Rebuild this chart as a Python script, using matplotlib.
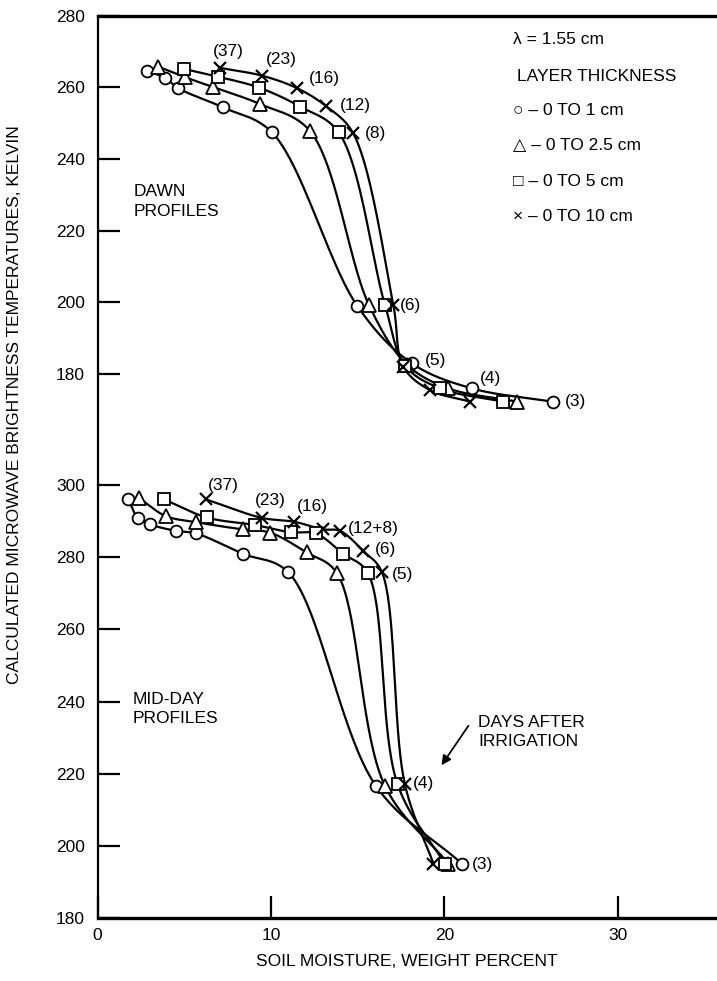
import numpy as np
import matplotlib
matplotlib.use("Agg")
import matplotlib.pyplot as plt

plt.rcParams['font.family'] = ['Liberation Sans', 'DejaVu Sans']

# days after irrigation for each point along a curve (dry -> wet)
days = [37, 23, 16, 12, 8, 6, 5, 4, 3]

# dawn profiles: soil moisture (weight %) and brightness temperature (K)
dawn_x_1 = [2.84, 3.89, 4.66, 7.22, 10.06, 14.98, 18.12, 21.58, 26.25]
dawn_t_1 = [264.6, 262.6, 259.7, 254.4, 247.4, 199.0, 183.0, 176.0, 172.3]
dawn_x_25 = [3.51, 5.05, 6.68, 9.37, 12.25, 15.66, 17.85, 20.23, 24.18]
dawn_t_25 = [265.7, 262.8, 260.0, 255.3, 247.8, 199.2, 182.6, 176.0, 172.3]
dawn_x_5 = [5.0, 6.97, 9.31, 11.68, 13.91, 16.58, 17.75, 19.75, 23.4]
dawn_t_5 = [265.1, 262.9, 259.9, 254.6, 247.4, 199.2, 182.3, 176.0, 172.3]
dawn_x_10 = [7.06, 9.5, 11.52, 13.16, 14.75, 17.06, 17.64, 19.18, 21.48]
dawn_t_10 = [265.4, 263.2, 259.7, 254.8, 247.1, 199.2, 182.0, 175.5, 172.3]

# mid-day profiles
mid_x_1 = [1.78, 2.32, 3.03, 4.51, 5.66, 8.41, 11.0, 16.06, 21.0]
mid_t_1 = [296.0, 290.9, 289.1, 287.3, 286.6, 280.9, 275.8, 216.6, 195.1]
mid_x_25 = [2.41, 3.93, 5.68, 8.37, 9.95, 12.06, 13.79, 16.58, 20.23]
mid_t_25 = [296.3, 291.4, 289.7, 287.7, 286.8, 281.3, 275.7, 216.6, 195.1]
mid_x_5 = [3.84, 6.3, 9.08, 11.16, 12.58, 14.18, 15.58, 17.31, 20.04]
mid_t_5 = [296.0, 291.0, 288.9, 286.9, 286.6, 280.9, 275.7, 217.0, 194.9]
mid_x_10 = [6.26, 9.47, 11.35, 13.02, 13.98, 15.33, 16.39, 17.73, 19.37]
mid_t_10 = [296.0, 290.9, 289.8, 287.7, 287.3, 281.7, 276.0, 217.0, 195.1]

layers = ['0 TO 1 cm', '0 TO 2.5 cm', '0 TO 5 cm', '0 TO 10 cm']
markers = ['o', '^', 's', 'x']
legend_glyphs = ['\u25cb', '\u25b3', '\u25a1', '\u00d7']


def smooth(xs, ys, sx, sy, n=40):
    # centripetal catmull-rom through the points, done in screen-like units
    P = np.column_stack([np.asarray(xs) * sx, np.asarray(ys) * sy])
    P = np.vstack([2 * P[0] - P[1], P, 2 * P[-1] - P[-2]])
    out = []
    for i in range(1, len(P) - 2):
        p0, p1, p2, p3 = P[i - 1], P[i], P[i + 1], P[i + 2]
        t0 = 0.0
        t1 = t0 + np.linalg.norm(p1 - p0) ** 0.5
        t2 = t1 + np.linalg.norm(p2 - p1) ** 0.5
        t3 = t2 + np.linalg.norm(p3 - p2) ** 0.5
        t = np.linspace(t1, t2, n)[:, None]
        a1 = (t1 - t) / (t1 - t0) * p0 + (t - t0) / (t1 - t0) * p1
        a2 = (t2 - t) / (t2 - t1) * p1 + (t - t1) / (t2 - t1) * p2
        a3 = (t3 - t) / (t3 - t2) * p2 + (t - t2) / (t3 - t2) * p3
        b1 = (t2 - t) / (t2 - t0) * a1 + (t - t0) / (t2 - t0) * a2
        b2 = (t3 - t) / (t3 - t1) * a2 + (t - t1) / (t3 - t1) * a3
        c = (t2 - t) / (t2 - t1) * b1 + (t - t1) / (t2 - t1) * b2
        out.append(c)
    out = np.vstack(out)
    return out[:, 0] / sx, out[:, 1] / sy


W, H = 717, 981
fig = plt.figure(figsize=(W / 100, H / 100), dpi=100)

x0 = 97.5 / W
top_px, mid_px, bot_px = 15.5, 485.0, 918.0
ax1 = fig.add_axes([x0, 1 - mid_px / H, 1 - x0, (mid_px - top_px) / H])
ax2 = fig.add_axes([x0, 1 - bot_px / H, 1 - x0, (bot_px - mid_px) / H])

xmax = (W - 97.5) / 17.34
ax1.set_xlim(0, xmax)
ax2.set_xlim(0, xmax)
ax1.set_ylim(280 - (mid_px - top_px) / 3.585, 280)
ax2.set_ylim(180, 300)

fs = 12.5
for ax in (ax1, ax2):
    ax.spines['right'].set_visible(False)
    ax.spines['left'].set_linewidth(1.6)
    ax.tick_params(axis='y', direction='in', length=16, width=1.6,
                   labelsize=fs, pad=9)
    ax.patch.set_alpha(0)

ax1.spines['bottom'].set_visible(False)
ax1.spines['top'].set_linewidth(2.4)
ax1.set_yticks(np.arange(180, 281, 20))
ax1.set_xticks([])

ax2.spines['top'].set_visible(False)
ax2.spines['bottom'].set_linewidth(2.4)
ax2.set_yticks(np.arange(180, 301, 20))
ax2.set_xticks([0, 10, 20, 30])
ax2.tick_params(axis='x', direction='in', length=16, width=1.6,
                labelsize=fs, pad=7)
ax2.set_xlabel('SOIL MOISTURE, WEIGHT PERCENT', fontsize=fs, labelpad=8)

sx, sy = 17.34, 3.6
dawn = [(dawn_x_1, dawn_t_1), (dawn_x_25, dawn_t_25),
        (dawn_x_5, dawn_t_5), (dawn_x_10, dawn_t_10)]
mid = [(mid_x_1, mid_t_1), (mid_x_25, mid_t_25),
       (mid_x_5, mid_t_5), (mid_x_10, mid_t_10)]

for ax, group in ((ax1, dawn), (ax2, mid)):
    for (xs, ts), m in zip(group, markers):
        cx, cy = smooth(xs, ts, sx, sy)
        ax.plot(cx, cy, color='black', lw=1.6, zorder=2)
        if m == 'x':
            ax.plot(xs, ts, ls='none', marker='x', ms=8, mew=1.6,
                    color='black', zorder=3)
        else:
            ms = {'o': 8.5, '^': 10, 's': 8}[m]
            ax.plot(xs, ts, ls='none', marker=m, ms=ms, mew=1.3,
                    mfc='white', mec='black', zorder=3)

# day labels
dawn_lab = [(6.68, 269.9), (9.7, 267.6), (12.2, 262.3), (13.98, 254.8),
            (15.43, 247.0), (17.45, 199.1), (18.89, 183.9), (22.06, 178.8),
            (26.96, 172.3)]
for d, (lx, ly) in zip(days, dawn_lab):
    ax1.text(lx, ly, '(%d)' % d, fontsize=fs, ha='left', va='center')

mid_text = ['(37)', '(23)', '(16)', '(12+8)', '(6)', '(5)', '(4)', '(3)']
mid_lab = [(6.39, 300.0), (9.08, 295.8), (11.49, 294.0), (14.46, 288.0),
           (16.0, 282.0), (16.97, 275.3), (18.21, 217.3), (21.58, 194.9)]
for s, (lx, ly) in zip(mid_text, mid_lab):
    ax2.text(lx, ly, s, fontsize=fs, ha='left', va='center', clip_on=False)

ax1.text(2.07, 228.1, 'DAWN\nPROFILES', fontsize=fs, ha='left',
         va='center', linespacing=1.35)
ax2.text(2.03, 238.0, 'MID-DAY\nPROFILES', fontsize=fs, ha='left',
         va='center', linespacing=1.35)
ax2.text(21.96, 231.6, 'DAYS AFTER\nIRRIGATION', fontsize=fs, ha='left',
         va='center', linespacing=1.35)
ax2.annotate('', xy=(19.75, 221.7), xytext=(21.48, 233.9),
             arrowprops=dict(arrowstyle='-|>', color='black', lw=1.3,
                             mutation_scale=14))

# key
ax1.text(23.97, 273.2, '\u03bb = 1.55 cm', fontsize=fs, ha='left', va='center')
ax1.text(24.2, 263.1, 'LAYER THICKNESS', fontsize=fs, ha='left', va='center')
for i, (g, lab) in enumerate(zip(legend_glyphs, layers)):
    ax1.text(23.97, 253.4 - i * 9.8, g + ' \u2013 ' + lab, fontsize=fs,
             ha='left', va='center')

fig.text(15 / W, 1 - 405 / H,
         'CALCULATED MICROWAVE BRIGHTNESS TEMPERATURES, KELVIN',
         rotation=90, fontsize=fs, ha='center', va='center')

fig.savefig('out.png', dpi=100)
